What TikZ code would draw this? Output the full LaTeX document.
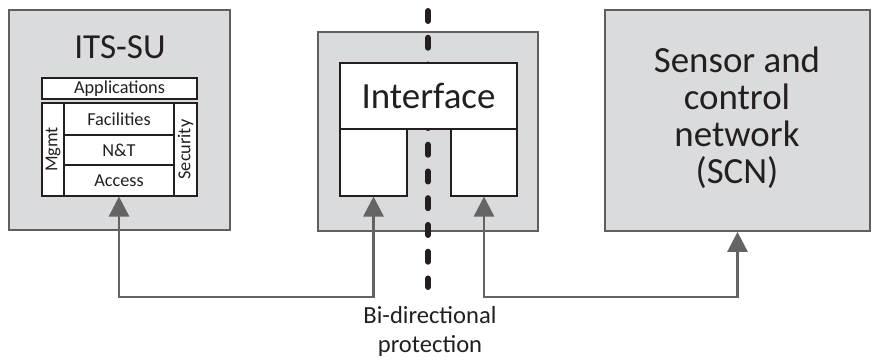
\documentclass[tikz,border=0pt]{standalone}
\usepackage{fontspec}
\setmainfont{Carlito}
\usepackage{tikz}
\usetikzlibrary{arrows.meta, positioning}
\definecolor{panelgray}{RGB}{218,219,221}
\definecolor{edgegray}{RGB}{95,95,95}
\definecolor{linkgray}{RGB}{100,100,100}
\definecolor{inkdark}{RGB}{35,31,32}

\begin{document}
\begin{tikzpicture}[x=0.02cm, y=-0.02cm, text=inkdark,
  panel/.style={draw=edgegray, fill=panelgray, line width=1pt, inner sep=0pt},
  layer/.style={draw=inkdark, fill=white, line width=0.6pt, inner sep=0pt, font=\fontsize{10.4}{12}\selectfont},
  biglabel/.style={font=\fontsize{21}{21}\selectfont, align=center},
  link/.style={draw=linkgray, line width=1.5pt, {Triangle[length=0.4cm, width=0.4cm]}-{Triangle[length=0.4cm, width=0.4cm]}},
  divider/.style={draw=inkdark, line width=0.12cm, line cap=round, dash pattern=on 0.2cm off 0.335cm}]
 \useasboundingbox (0,0) rectangle (875,360);
 % ITS station unit
 \node[panel, minimum width=4.42cm, minimum height=4.4cm] (its) at (119.5,120){};
 \node[font=\fontsize{20}{24}\selectfont] (itstitle) at (120,47){ITS-SU};
 \node[layer, minimum width=3.1cm, minimum height=0.42cm] (apps) at (119.5,88.5){Applications};
 \node[layer, minimum width=0.44cm, minimum height=1.86cm] (mgmt) at (53,149.5){};
 \node[rotate=90, font=\fontsize{10.4}{12}\selectfont] (mgmtlbl) at (mgmt){Mgmt};
 \node[layer, minimum width=0.46cm, minimum height=1.86cm] (sec) at (185.5,149.5){};
 \node[rotate=90, font=\fontsize{10.4}{12}\selectfont] (seclbl) at (sec){Security};
 \node[layer, minimum width=2.2cm, minimum height=0.64cm] (fac) at (119,119){Facilities};
 \node[layer, minimum width=2.2cm, minimum height=0.6cm] (nt) at (119,150){N\&T};
 \node[layer, minimum width=2.2cm, minimum height=0.62cm] (acc) at (119,180.5){Access};
 % gateway with interface
 \node[panel, minimum width=4.4cm, minimum height=3.98cm] (gw) at (428,131.5){};
 \coordinate (divtop) at (428,11);
 \coordinate (divbot) at (428,287);
 \draw[divider] (divtop) -- (divbot);
 \node[layer, biglabel, minimum width=3.54cm, minimum height=1.32cm] (iface) at (428.5,96){Interface};
 \node[layer, minimum width=1.34cm, minimum height=1.34cm] (portl) at (373.5,162.5){};
 \node[layer, minimum width=1.32cm, minimum height=1.34cm] (portr) at (484,162.5){};
 % sensor and control network
 \node[panel, minimum width=5.3cm, minimum height=4.42cm] (scn) at (737.5,120.5){};
 \node[biglabel] (scnlbl) at (737,118){Sensor and\\control\\network\\(SCN)};
 % protected links
 \coordinate (low) at (0,297);
 \draw[link] (acc.south) -- (acc.south |- low) -| (portl.south);
 \draw[link] (portr.south) -- (portr.south |- low) -| (scn.south);
 \node[font=\fontsize{14}{16.5}\selectfont, align=center] (prot) at (430,331){Bi-directional\\protection};
\end{tikzpicture}
\end{document}
